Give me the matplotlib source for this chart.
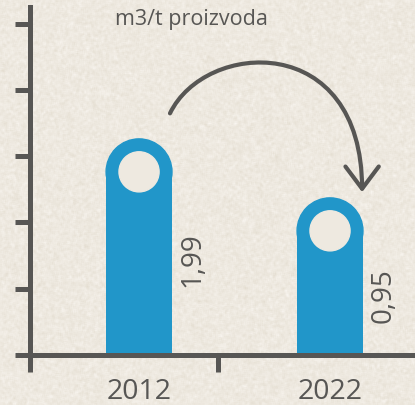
import numpy as np
import matplotlib.pyplot as plt
from matplotlib.patches import Ellipse, FancyArrowPatch
from matplotlib.path import Path

# water use per tonne of product
years = ["2012", "2022"]
water_use = [1.99, 0.95]
value_labels = ["1,99", "0,95"]
unit_label = "m3/t proizvoda"

paper = "#eee9e0"
ink = "#575654"
blue = "#2196c9"

plt.rcParams['font.family'] = ['Open Sans', 'DejaVu Sans']

fig = plt.figure(figsize=(4.15, 4.05), dpi=100)
fig.patch.set_facecolor(paper)

# light paper grain behind everything
rng = np.random.default_rng(3)
grain = rng.normal(0, 1, (405, 415))
k = np.ones(3) / 3
grain = np.apply_along_axis(lambda r: np.convolve(r, k, mode='same'), 1, grain)
grain = np.apply_along_axis(lambda c: np.convolve(c, k, mode='same'), 0, grain)
base_rgb = np.array([238, 233, 224]) / 255
tex = np.clip(base_rgb + grain[..., None] * np.array([0.028, 0.032, 0.042]), 0, 1)
fig.figimage(tex, 0, 0, zorder=-1)

ax = fig.add_axes([30 / 415, 50 / 405, 385 / 415, 348 / 405])
ax.set_facecolor('none')
ax.set_zorder(1)

base = -1.82          # where the bars start
tick_step = 1.1686
xlim = (-0.571, 1.445)
ylim = (base, base + 5.25 * tick_step)
ax.set_xlim(*xlim)
ax.set_ylim(*ylim)

x = np.arange(len(years))
bar_w = 0.345
hole_w = 0.21

# pixels per data unit, so the caps come out round
p0 = ax.transData.transform((0, 0))
p1 = ax.transData.transform((1, 1))
sx, sy = p1 - p0
cap_h = bar_w / 2 * sx / sy

for xi, v in zip(x, water_use):
    ax.bar(xi, v - cap_h - base, bottom=base, width=bar_w, color=blue, zorder=1)
    ax.add_patch(Ellipse((xi, v - cap_h), bar_w, 2 * cap_h, color=blue, zorder=1))
    ax.add_patch(Ellipse((xi, v - cap_h), hole_w, hole_w * sx / sy,
                         color=paper, zorder=1.1))

# value labels, rotated, beside each bar
label_frac = [0.44, 0.38]
for xi, v, lab, f in zip(x, water_use, value_labels, label_frac):
    ax.annotate(lab, (xi + bar_w / 2, base + f * (v - base)),
                xytext=(5, 0), textcoords='offset points',
                rotation=90, ha='left', va='center',
                fontsize=20, color=ink)

# curved arrow from the first bar down onto the second
start = (x[0] + 0.162, water_use[0] + 0.45)
end = (x[1] + 0.168, water_use[1] + 0.10)
verts = [start,
         (start[0] + 0.184, start[1] + 1.287),
         (end[0], end[1] + 2.855),
         end]
arc = Path(verts, [Path.MOVETO, Path.CURVE4, Path.CURVE4, Path.CURVE4])
ax.add_patch(FancyArrowPatch(path=arc, arrowstyle='->,head_length=1.6,head_width=1.2',
                             mutation_scale=10, lw=3, color=ink,
                             zorder=3, clip_on=False))

# axes
for side in ['top', 'right']:
    ax.spines[side].set_visible(False)
for side in ['left', 'bottom']:
    ax.spines[side].set_linewidth(3.6)
    ax.spines[side].set_color(ink)
    ax.spines[side].set_zorder(2)

ax.set_yticks(base + tick_step * np.arange(6))
ax.set_yticklabels([])
ax.tick_params(axis='y', length=10.8, width=3.6, color=ink, direction='out')

ax.set_xticks(x)
ax.set_xticklabels(years)
ax.tick_params(axis='x', which='major', length=0, pad=16.5, labelsize=20.5, labelcolor=ink)
ax.set_xticks([xlim[0], 0.414], minor=True)
ax.tick_params(axis='x', which='minor', length=12.2, width=3.6, color=ink, direction='out')

fig.text(115 / 415, 1 - 25 / 405, unit_label, fontsize=15.5, color=ink,
         ha='left', va='baseline')

fig.savefig("out.png", dpi=100, facecolor=fig.get_facecolor())
